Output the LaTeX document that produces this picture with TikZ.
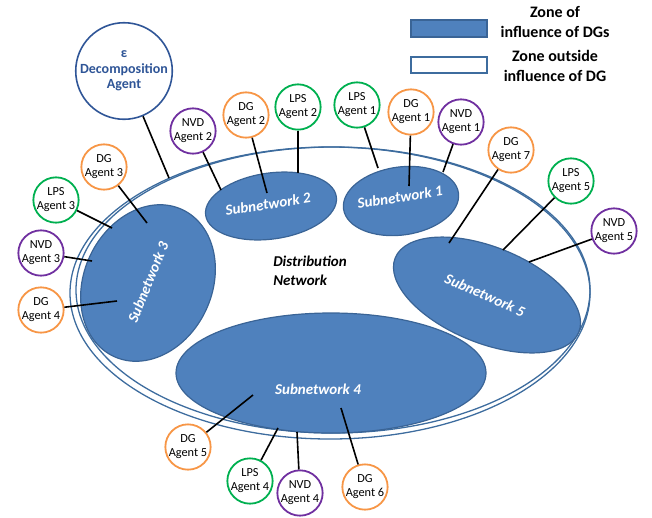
\documentclass[tikz,border=0pt]{standalone}
\usepackage{fontspec}
\setmainfont{Carlito}
\usetikzlibrary{shapes.geometric}
\definecolor{snfill}{HTML}{4F81BD}
\definecolor{snborder}{HTML}{3A6496}
\definecolor{outerline}{HTML}{3D6C9E}
\definecolor{dgorange}{HTML}{F79646}
\definecolor{lpsgreen}{HTML}{00B050}
\definecolor{nvdpurple}{HTML}{7030A0}
\definecolor{decblue}{HTML}{2F5597}
\begin{document}
\begin{tikzpicture}[x=1pt,y=-1pt,
  agent/.style={circle, draw, line width=1.8pt, fill=white, minimum size=45pt, inner sep=0pt, align=center, font=\fontsize{12.3}{14}\selectfont, text=black},
  dgc/.style={agent, draw=dgorange},
  lpsc/.style={agent, draw=lpsgreen},
  nvdc/.style={agent, draw=nvdpurple},
  subnet/.style={ellipse, fill=snfill, draw=snborder, line width=1.2pt, inner sep=0pt},
  snlabel/.style={text=white, font=\fontsize{15}{17}\selectfont\bfseries\itshape, inner sep=0pt},
  outerring/.style={ellipse, draw=outerline, line width=1.3pt, inner sep=0pt},
  link/.style={line width=1.6pt, black},
  legendtext/.style={align=center, font=\fontsize{16}{20}\selectfont\bfseries, inner sep=0pt}
]
\useasboundingbox (0,0) rectangle (652,517);

% legend
\node[draw=snborder, fill=snfill, line width=1.2pt, minimum width=76pt, minimum height=17pt, inner sep=0pt] (legfill) at (449,28.5) {};
\node[draw=outerline, fill=white, line width=1.5pt, minimum width=76pt, minimum height=16pt, inner sep=0pt] (legempty) at (449,65) {};
\node[legendtext] (legt1) at (555,22) {Zone of\\influence of DGs};
\node[legendtext] (legt2) at (555,66) {Zone outside\\influence of DG};

% outer distribution network rings
\node[outerring, minimum width=520pt, minimum height=292pt] (dnout) at (330,293) {};
\node[outerring, minimum width=514pt, minimum height=286pt] (dnin) at (333,290) {};

% subnetworks
\node[subnet, minimum width=116pt, minimum height=68pt, rotate=8] (sn1) at (401,201) {};
\node[subnet, minimum width=132pt, minimum height=66pt, rotate=8] (sn2) at (271,206) {};
\node[subnet, minimum width=162pt, minimum height=128pt, rotate=65] (sn3) at (148,283) {};
\node[subnet, minimum width=310pt, minimum height=120pt] (sn4) at (331,373) {};
\node[subnet, minimum width=198pt, minimum height=96pt, rotate=-22] (sn5) at (487,295) {};

\node[snlabel, rotate=9] (sn1l) at (400,197) {Subnetwork 1};
\node[snlabel, rotate=9] (sn2l) at (268,204) {Subnetwork 2};
\node[snlabel, rotate=68] (sn3l) at (148,282) {Subnetwork 3};
\node[snlabel] (sn4l) at (318,389) {Subnetwork 4};
\node[snlabel, rotate=-24] (sn5l) at (485,295) {Subnetwork 5};

\node[align=left, font=\fontsize{15}{19}\selectfont\bfseries\itshape, inner sep=0pt] (distnet) at (310,271) {Distribution\\Network};

% agents
\node[circle, draw=decblue, line width=1.6pt, fill=white, minimum size=86pt, inner sep=0pt, align=center, text=decblue, font=\fontsize{14}{15.5}\selectfont\bfseries] (dec) at (124,71) {ε\\Decomposition\\Agent};

\node[nvdc] (nvd2) at (193,131) {NVD\\Agent 2};
\node[dgc]  (dg2)  at (246,115) {DG\\Agent 2};
\node[lpsc] (lps2) at (298,107) {LPS\\Agent 2};
\node[lpsc] (lps1) at (357,105) {LPS\\Agent 1};
\node[dgc]  (dg1)  at (411,112) {DG\\Agent 1};
\node[nvdc] (nvd1) at (461,122) {NVD\\Agent 1};
\node[dgc]  (dg7)  at (511,150) {DG\\Agent 7};
\node[lpsc] (lps5) at (571,181) {LPS\\Agent 5};
\node[nvdc] (nvd5) at (614,231) {NVD\\Agent 5};
\node[dgc]  (dg3)  at (104,167) {DG\\Agent 3};
\node[lpsc] (lps3) at (56,200) {LPS\\Agent 3};
\node[nvdc] (nvd3) at (41,253) {NVD\\Agent 3};
\node[dgc]  (dg4)  at (41,310) {DG\\Agent 4};
\node[dgc]  (dg5)  at (188,447) {DG\\Agent 5};
\node[lpsc] (lps4) at (250,481) {LPS\\Agent 4};
\node[nvdc] (nvd4) at (300,493) {NVD\\Agent 4};
\node[dgc]  (dg6)  at (365,487) {DG\\Agent 6};

% connector end points
\coordinate (edec) at (169,178);
\coordinate (envd2) at (221,190);
\coordinate (edg2) at (267,193);
\coordinate (elps2) at (298,173);
\coordinate (elps1) at (378,168);
\coordinate (edg1) at (409,186);
\coordinate (envd1) at (443,172);
\coordinate (edg7) at (449,243);
\coordinate (elps5) at (503,250);
\coordinate (envd5) at (529,262);
\coordinate (edg3) at (147,223);
\coordinate (elps3) at (112,228);
\coordinate (envd3) at (92,261);
\coordinate (edg4) at (117,301);
\coordinate (edg5) at (253,395);
\coordinate (elps4) at (278,428);
\coordinate (envd4) at (297,432);
\coordinate (edg6) at (341,408);

% connectors
\draw[link] (dec) -- (edec);
\draw[link] (nvd2) -- (envd2);
\draw[link] (dg2) -- (edg2);
\draw[link] (lps2) -- (elps2);
\draw[link] (lps1) -- (elps1);
\draw[link] (dg1) -- (edg1);
\draw[link] (nvd1) -- (envd1);
\draw[link] (dg7) -- (edg7);
\draw[link] (lps5) -- (elps5);
\draw[link] (nvd5) -- (envd5);
\draw[link] (dg3) -- (edg3);
\draw[link] (lps3) -- (elps3);
\draw[link] (nvd3) -- (envd3);
\draw[link] (dg4) -- (edg4);
\draw[link] (dg5) -- (edg5);
\draw[link] (lps4) -- (elps4);
\draw[link] (nvd4) -- (envd4);
\draw[link] (dg6) -- (edg6);
\end{tikzpicture}
\end{document}
